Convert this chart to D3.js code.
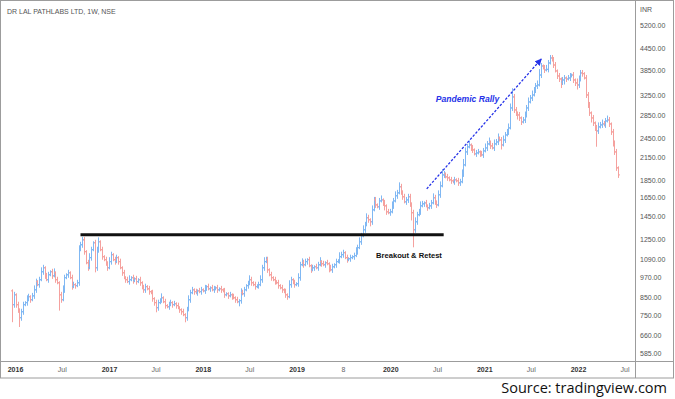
<!DOCTYPE html>
<html><head><meta charset="utf-8">
<script src="https://cdn.jsdelivr.net/npm/d3@7"></script>
<style>body{margin:0;background:#fff}svg{display:block}</style>
</head><body><svg id="c" width="675" height="399"></svg>
<script>
// ---- data (weekly bars, DR LAL PATHLABS, NSE) ----
const firstWeek = "2015-12-21";
const listingOpen = 885;
const closes = [
807,862,807,780,740,770,807,818,834,851,834,856,891,941,922,953,1005,1032,978,953,
985,1005,978,998,953,934,862,834,891,966,985,998,966,910,922,916,934,1164,1203,1243,
1149,1067,1032,1104,1164,1219,1032,1164,1227,1164,1111,1089,1067,1032,1075,1126,1089,1075,1104,1075,
1032,998,966,953,941,953,966,947,959,941,953,934,903,891,910,897,880,874,840,818,
791,818,834,845,823,802,796,807,818,807,812,802,791,780,770,755,740,780,834,874,
891,880,874,885,880,891,885,903,910,897,903,891,897,903,891,897,891,885,862,868,
856,862,851,845,834,823,829,874,868,891,916,928,953,934,922,910,916,922,953,1032,
1075,1089,1018,985,966,953,941,934,916,903,891,880,862,851,922,953,934,922,928,966,
1053,1067,1053,1075,1089,1046,1018,1032,1039,1032,1053,1075,1060,1053,1067,1060,1032,1018,1039,1053,
1075,1082,1111,1126,1141,1104,1089,1096,1104,1111,1119,1149,1180,1227,1277,1329,1374,1440,1421,1402,
1518,1622,1569,1549,1611,1622,1590,1559,1498,1489,1498,1559,1611,1667,1700,1770,1712,1656,1601,1622,
1656,1580,1489,1329,1402,1469,1498,1559,1580,1590,1559,1539,1559,1590,1645,1601,1569,1678,1781,1916,
1929,1891,1879,1854,1842,1830,1854,1842,1817,1830,1929,2048,2233,2309,2339,2293,2263,2204,2218,2233,
2204,2189,2248,2293,2355,2386,2324,2293,2355,2386,2451,2418,2339,2418,2500,2551,2620,2993,3220,2953,
2895,2856,2800,2726,2762,2837,2993,3115,3198,3263,3373,3465,3488,3727,3958,3906,3854,3870,4038,4175,
4160,3984,3829,3703,3630,3559,3606,3654,3630,3654,3703,3727,3606,3535,3488,3606,3778,3760,3654,3263,
3053,2895,2800,2708,2620,2568,2638,2673,2690,2673,2744,2762,2690,2551,2386,2233,2008,1916];
// how far (in %) the weekly high / low reached beyond the open-close body
const highExtPct = [
1,2,1,2,1,2,2,1,3,2,1,2,3,2,1,2,3,2,1,2,
2,1,2,3,1,2,1,2,3,2,1,2,1,2,2,1,2,3,2,2,
2,1,2,3,2,1,2,2,3,1,2,1,2,1,3,2,1,2,2,1,
2,1,2,1,2,3,1,2,1,2,1,2,1,2,2,1,2,1,2,1,
2,2,1,3,1,2,1,2,2,1,2,1,2,1,1,2,1,2,3,2,
2,1,2,1,2,2,1,2,1,2,1,2,2,1,2,1,2,1,2,1,
1,2,1,2,1,2,1,3,2,2,1,2,3,2,1,2,1,2,3,2,
3,2,2,1,2,1,2,1,2,1,2,1,2,1,3,2,1,2,1,3,
2,3,2,2,1,2,1,2,1,2,2,3,1,2,1,2,1,2,2,1,
2,1,3,2,2,1,2,1,2,1,2,3,2,3,2,3,2,3,2,1,
3,2,2,1,2,3,1,2,1,2,2,3,2,3,2,3,2,1,2,2,
2,2,1,2,3,2,2,3,2,1,2,1,2,2,3,2,1,3,3,4,
2,1,2,1,2,1,2,1,2,2,3,4,3,2,3,1,2,1,2,2,
1,2,2,3,2,3,1,2,3,2,3,1,2,3,2,2,3,3,6,2,
2,1,2,1,2,3,2,3,2,3,2,2,3,4,2,1,2,3,2,2,
2,1,2,1,2,1,2,2,1,2,2,1,2,1,3,3,2,2,1,2,
2,2,1,2,1,2,3,2,3,2,2,3,2,1,2,1,2,1];
const lowExtPct = [
11,2,2,2,6,2,2,1,2,1,2,1,2,2,1,2,1,2,2,1,
2,1,2,1,2,1,10,2,1,2,1,2,1,2,1,2,1,2,1,2,
2,1,2,1,2,1,3,2,2,1,2,1,2,2,1,2,1,2,1,2,
1,2,1,2,1,2,1,2,1,2,1,2,1,2,2,1,2,1,2,2,
3,2,1,2,1,2,1,2,1,2,1,2,1,2,2,1,3,2,1,2,
1,2,1,2,1,2,1,2,2,1,2,1,2,1,2,1,2,1,2,1,
2,1,2,1,2,1,3,2,1,2,1,2,1,2,1,2,1,2,1,2,
2,1,2,1,2,1,2,1,2,1,2,1,2,2,1,2,1,2,1,2,
2,1,2,1,2,1,2,1,2,1,2,1,2,1,2,1,3,1,2,1,
2,1,2,1,2,1,2,1,2,1,2,1,2,1,2,1,2,1,2,3,
2,1,2,1,2,1,2,3,2,1,2,1,2,1,2,1,2,2,1,2,
2,2,5,11,2,2,1,2,1,2,1,2,1,2,1,2,2,1,2,1,
2,1,2,1,2,1,2,1,2,2,1,2,1,2,1,2,2,1,2,1,
2,1,2,1,2,1,2,1,2,1,2,1,3,1,2,1,2,1,2,2,
2,3,2,2,1,2,1,2,1,2,1,2,2,1,2,1,2,1,2,1,
2,2,1,2,2,4,2,3,2,1,2,1,2,2,3,2,1,2,1,2,
2,2,3,2,2,10,2,1,2,1,2,1,2,2,3,2,2,2];
const yTicks = [585,660,750,850,970,1090,1250,1450,1650,1850,2150,2450,2850,3250,3850,4450,5200];
const xTickDates = ["2016-01-01","2016-07-01","2017-01-01","2017-07-01","2018-01-01","2018-07-01",
  "2019-01-01","2019-07-01","2020-01-01","2020-07-01","2021-01-01","2021-07-01","2022-01-01","2022-07-01"];
const xTickLabels = ["2016","Jul","2017","Jul","2018","Jul","2019","8","2020","Jul","2021","Jul","2022","Jul"];
const breakoutLevel = 1285, breakoutFrom = "2016-09-12", breakoutTo = "2020-07-27";
const breakoutLabel = "Breakout & Retest", breakoutLabelAt = ["2020-03-14", 1100];
const rallyFrom = ["2020-05-22", 1746], rallyTo = ["2021-08-11", 4147];
const rallyLabel = "Pandemic Rally", rallyLabelAt = ["2020-06-26", 3120];
const title = "DR LAL PATHLABS LTD, 1W, NSE", currency = "INR", source = "Source: tradingview.com";

// ---- build ----
const pd = s => d3.timeParse("%Y-%m-%d")(s);
const W = 675, H = 399, plotR = 635, axisY = 361, frameB = 378;
const svg = d3.select("#c");
const x = d3.scaleTime().domain([pd("2016-01-01"), pd("2022-01-01")]).range([15, 578]);
const y = d3.scaleLog().domain([585, 5200]).range([353, 25]);
const start = pd(firstWeek);
const bars = closes.map((c, i) => {
  const o = i === 0 ? listingOpen : closes[i - 1];
  return {date: d3.timeDay.offset(start, 7 * i), o, c,
    h: Math.max(o, c) * (1 + highExtPct[i] / 100),
    l: Math.min(o, c) * (1 - lowExtPct[i] / 100)};
});

svg.append("rect").attr("width", W).attr("height", H).attr("fill", "#fff");
svg.append("defs").append("clipPath").attr("id", "clip")
  .append("rect").attr("x", 1).attr("y", 1).attr("width", plotR - 1).attr("height", axisY - 1);

const up = "#80b8f3", dn = "#f5a19e";
const g = svg.append("g").attr("clip-path", "url(#clip)");
const bg = g.selectAll("g.bar").data(bars).join("g").attr("class", "bar")
  .attr("stroke", d => d.c >= d.o ? up : dn).attr("stroke-width", 1);
bg.append("line").attr("x1", d => Math.round(x(d.date)) + 0.5).attr("x2", d => Math.round(x(d.date)) + 0.5)
  .attr("y1", d => y(d.h)).attr("y2", d => y(d.l));
bg.append("line").attr("x1", d => Math.round(x(d.date)) - 1).attr("x2", d => Math.round(x(d.date)) + 0.5)
  .attr("y1", d => y(d.o)).attr("y2", d => y(d.o));
bg.append("line").attr("x1", d => Math.round(x(d.date)) + 0.5).attr("x2", d => Math.round(x(d.date)) + 2)
  .attr("y1", d => y(d.c)).attr("y2", d => y(d.c));

// breakout line
g.append("line").attr("x1", x(pd(breakoutFrom))).attr("x2", x(pd(breakoutTo)))
  .attr("y1", y(breakoutLevel)).attr("y2", y(breakoutLevel))
  .attr("stroke", "#111").attr("stroke-width", 3);
svg.append("text").attr("x", x(pd(breakoutLabelAt[0]))).attr("y", y(breakoutLabelAt[1]))
  .attr("text-anchor", "middle").attr("font-family", "Liberation Sans, Arial, sans-serif")
  .attr("font-weight", "bold").attr("font-size", 7.6).attr("fill", "#111").text(breakoutLabel);

// rally arrow
const blue = "#2633e8";
svg.select("defs").append("marker").attr("id", "ah").attr("viewBox", "0 0 10 10")
  .attr("refX", 9).attr("refY", 5).attr("markerWidth", 7).attr("markerHeight", 7)
  .attr("markerUnits", "userSpaceOnUse").attr("orient", "auto")
  .append("path").attr("d", "M0,0L10,5L0,10Z").attr("fill", blue);
svg.append("line").attr("x1", x(pd(rallyFrom[0]))).attr("y1", y(rallyFrom[1]))
  .attr("x2", x(pd(rallyTo[0]))).attr("y2", y(rallyTo[1]))
  .attr("stroke", blue).attr("stroke-width", 1.3).attr("stroke-dasharray", "2.5,1.6")
  .attr("marker-end", "url(#ah)");
svg.append("text").attr("x", x(pd(rallyLabelAt[0]))).attr("y", y(rallyLabelAt[1]))
  .attr("font-family", "Liberation Sans, Arial, sans-serif").attr("font-weight", "bold")
  .attr("font-style", "italic").attr("font-size", 8.6).attr("fill", blue).text(rallyLabel);

// frame
const fc = "#9c9c9c";
svg.append("rect").attr("x", 0.5).attr("y", 0.5).attr("width", 673).attr("height", frameB - 0.5)
  .attr("fill", "none").attr("stroke", fc);
svg.append("line").attr("x1", plotR + 0.5).attr("x2", plotR + 0.5).attr("y1", 0).attr("y2", frameB).attr("stroke", fc);
svg.append("line").attr("x1", 0).attr("x2", 674).attr("y1", axisY + 0.5).attr("y2", axisY + 0.5).attr("stroke", fc);

// axes
const font = "Liberation Sans, Arial, sans-serif";
const ya = svg.append("g").attr("transform", `translate(${plotR},0)`)
  .call(d3.axisRight(y).tickValues(yTicks).tickFormat(d3.format(".2f")).tickSize(0).tickPadding(5));
ya.select(".domain").remove();
ya.selectAll("text").attr("font-family", font).attr("font-size", 7).attr("fill", "#555");
svg.append("text").attr("x", 640).attr("y", 12).attr("font-family", font).attr("font-size", 7)
  .attr("fill", "#555").text(currency);

const xa = svg.append("g").attr("transform", `translate(0,${axisY})`)
  .call(d3.axisBottom(x).tickValues(xTickDates.map(pd)).tickFormat((d, i) => xTickLabels[i]).tickSize(0).tickPadding(6));
xa.select(".domain").remove();
xa.selectAll("text").attr("font-family", font).attr("font-size", 7)
  .attr("font-weight", (d, i) => /^\d{4}$/.test(xTickLabels[i]) ? "bold" : "normal")
  .attr("fill", (d, i) => /^\d{4}$/.test(xTickLabels[i]) ? "#333" : "#666");

svg.append("text").attr("x", 7).attr("y", 14).attr("font-family", font).attr("font-size", 7)
  .attr("fill", "#555").text(title);
svg.append("text").attr("x", 667).attr("y", 393).attr("text-anchor", "end")
  .attr("font-family", "Open Sans, Noto Sans, sans-serif").attr("font-size", 14.5)
  .attr("fill", "#111").text(source);
</script></body></html>
